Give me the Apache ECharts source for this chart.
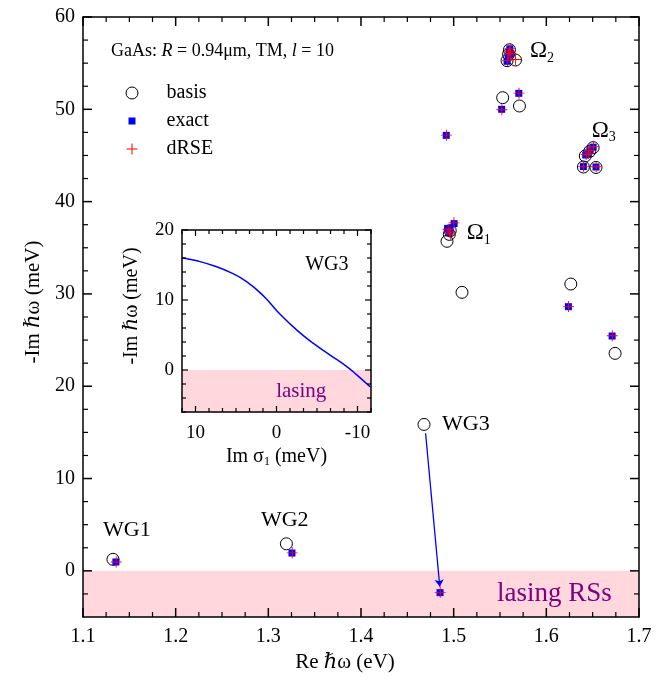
<!DOCTYPE html>
<html><head><meta charset="utf-8">
<script src="https://cdn.jsdelivr.net/npm/echarts@6/dist/echarts.min.js"></script>
<style>html,body{margin:0;padding:0;background:#fff}#c{width:668px;height:686px}</style>
</head><body><div id="c"></div>
<script>
// ---- data ----
const basisX = [1.1323, 1.3195, 1.4680, 1.4928, 1.4953, 1.4963, 1.5090, 1.5529, 1.5710, 1.5576, 1.5667, 1.5592, 1.5602, 1.6264, 1.6742, 1.6400, 1.6536, 1.6420, 1.6468, 1.6505];
const basisY = [1.25, 2.93, 15.86, 35.70, 36.45, 36.85, 30.17, 51.26, 50.36, 55.27, 55.34, 55.95, 56.45, 31.07, 23.56, 43.75, 43.70, 44.95, 45.45, 45.85];
const exactX = [1.1355, 1.3255, 1.4853, 1.4920, 1.4935, 1.4950, 1.4962, 1.5005, 1.5518, 1.5703, 1.5576, 1.5588, 1.5598, 1.5606, 1.5612, 1.6238, 1.6710, 1.6400, 1.6536, 1.6425, 1.6470, 1.6505, 1.6450];
const exactY = [0.96, 1.93, -2.36, 47.18, 37.10, 36.60, 36.90, 37.62, 50.00, 51.73, 55.20, 55.75, 56.15, 56.55, 56.00, 28.62, 25.44, 43.80, 43.75, 45.05, 45.50, 45.90, 45.20];
const drseX = [1.1358, 1.3258, 1.4855, 1.4922, 1.4940, 1.4957, 1.4965, 1.5003, 1.5520, 1.5705, 1.5580, 1.5592, 1.5601, 1.5610, 1.5615, 1.5667, 1.6240, 1.6712, 1.6402, 1.6538, 1.6430, 1.6472, 1.6508, 1.6455];
const drseY = [0.95, 1.95, -2.33, 47.20, 37.00, 36.70, 36.50, 37.70, 49.95, 51.75, 55.30, 55.90, 56.30, 56.60, 56.05, 55.40, 28.65, 25.46, 43.82, 43.78, 45.10, 45.55, 45.95, 45.25];
const arrowFrom = [1.4697, 14.9];
const arrowTo = [1.4850, -1.7];
// inset: WG3 trajectory
const insetSigma = [11.67, 9.82, 7.77, 5.71, 3.65, 1.60, -0.45, -2.51, -4.56, -6.62, -8.68, -9.91, -11.55];
const insetImW = [16.05, 15.6, 14.9, 13.95, 12.6, 10.57, 7.95, 5.7, 3.8, 2.14, 0.48, -0.7, -2.4];
// tick labels and tick marks
const mainXMajor = [1.1, 1.2, 1.3, 1.4, 1.5, 1.6, 1.7];
const mainXMinor = [1.125, 1.15, 1.175, 1.225, 1.25, 1.275, 1.325, 1.35, 1.375, 1.425, 1.45, 1.475, 1.525, 1.55, 1.575, 1.625, 1.65, 1.675];
const mainYMajor = [0, 10, 20, 30, 40, 50, 60];
const mainYMinor = [-2.5, 2.5, 5, 7.5, 12.5, 15, 17.5, 22.5, 25, 27.5, 32.5, 35, 37.5, 42.5, 45, 47.5, 52.5, 55, 57.5];
const insetXMajor = [-10, 0, 10];
const insetXMinor = [-11.667, -8.333, -6.667, -5, -3.333, -1.667, 1.667, 3.333, 5, 6.667, 8.333, 11.667];
const insetYMajor = [0, 10, 20];
const insetYMinor = [-6, -4, -2, 2, 4, 6, 8, 12, 14, 16, 18];
// annotations (data coordinates)
const mainNotes = [
  ['{o|Ω}{s|2}', 1.5824, 56.3],
  ['{o|Ω}{s|3}', 1.6490, 47.67],
  ['{o|Ω}{s|1}', 1.5140, 36.58],
  ['WG1', 1.1216, 4.44],
  ['WG2', 1.2920, 5.52],
  ['WG3', 1.4874, 15.9],
  ['{p|lasing RSs}', 1.5467, -2.5]
];
const insetNotes = [
  ['WG3', -3.54, 15.0],
  ['{p|lasing}', 0.04, -3.1]
];

// ---- chart ----
const FONT = 'Liberation Serif, DejaVu Serif, serif';
const PINK = '#ffd7dc';
const PURPLE = '#800080';
const MAIN = {x0: 1.1, x1: 1.7, y0: -5, y1: 60};
const INSET = {x0: -35 / 3, x1: 35 / 3, y0: -6, y1: 20};
const pts = (xs, ys) => xs.map((x, i) => [x, ys[i]]);
const mkLine = () => ({show: true, onZero: false, lineStyle: {color: '#000', width: 1.5}});
const lbl = (size, margin, extra) => Object.assign({show: true, color: '#000', fontFamily: FONT, fontSize: size, margin: margin}, extra || {});

// tick marks drawn through the axes' own scales (api.coord), on all four sides, pointing inward
function tickData(r, xMaj, xMin, yMaj, yMin, longLen, shortLen) {
  const d = [];
  xMaj.forEach(v => d.push([v, r.y0, longLen, 0]));
  xMin.forEach(v => d.push([v, r.y0, shortLen, 0]));
  yMaj.forEach(v => d.push([r.x0, v, longLen, 1]));
  yMin.forEach(v => d.push([r.x0, v, shortLen, 1]));
  return d;
}
function tickRenderer(r) {
  return function (params, api) {
    const len = api.value(2), kind = api.value(3);
    const style = {stroke: '#000', lineWidth: len > 6 ? 1.5 : 1.2};
    if (kind === 0) {
      const v = api.value(0);
      const a = api.coord([v, r.y0]), b = api.coord([v, r.y1]);
      return {type: 'group', children: [
        {type: 'line', shape: {x1: a[0], y1: a[1], x2: a[0], y2: a[1] - len}, style: style},
        {type: 'line', shape: {x1: b[0], y1: b[1], x2: b[0], y2: b[1] + len}, style: style}
      ]};
    }
    const v = api.value(1);
    const a = api.coord([r.x0, v]), b = api.coord([r.x1, v]);
    const dir = a[0] < b[0] ? 1 : -1;
    return {type: 'group', children: [
      {type: 'line', shape: {x1: a[0], y1: a[1], x2: a[0] + dir * len, y2: a[1]}, style: style},
      {type: 'line', shape: {x1: b[0], y1: b[1], x2: b[0] - dir * len, y2: b[1]}, style: style}
    ]};
  };
}

const richMain = () => ({
  n: {fontFamily: FONT, fontSize: 21, color: '#000'},
  i: {fontFamily: FONT, fontSize: 21, fontStyle: 'italic', color: '#000'}
});

const option = {
  backgroundColor: '#fff',
  animation: false,
  title: {
    text: '{n|GaAs: }{i|R}{n| = 0.94μm, TM, }{i|l}{n| = 10}',
    left: 106, top: 37,
    textStyle: {fontWeight: 'normal', rich: {
      n: {fontFamily: FONT, fontSize: 18, fontWeight: 'normal', color: '#000'},
      i: {fontFamily: FONT, fontSize: 18, fontWeight: 'normal', fontStyle: 'italic', color: '#000'}
    }}
  },
  legend: {
    orient: 'vertical', left: 120, top: 78, itemWidth: 36, itemHeight: 13, itemGap: 8,
    textStyle: {fontFamily: FONT, fontSize: 20, color: '#000'},
    data: [
      {name: 'basis', icon: 'path://M0,0M36,13M12.5,6.5A6,6,0,1,1,0.5,6.5A6,6,0,1,1,12.5,6.5Z',
        itemStyle: {color: 'rgba(0,0,0,0)', borderColor: '#000', borderWidth: 1, opacity: 1}},
      {name: 'exact', icon: 'path://M0,0M36,13M3,3H10V10H3Z', itemStyle: {color: '#0000ff', borderWidth: 0, opacity: 1}},
      {name: 'dRSE', icon: 'path://M0,0M36,13M6,1H7V12H6ZM1,6H12V7H1Z', itemStyle: {color: '#ff0000', borderWidth: 0, opacity: 1}}
    ]
  },
  grid: [
    {left: 83, right: 29, top: 17, bottom: 69, outerBoundsMode: 'none'},
    {left: 182, top: 230, width: 189, height: 182, outerBoundsMode: 'none'}
  ],
  xAxis: [
    {type: 'value', gridIndex: 0, z: 5, min: MAIN.x0, max: MAIN.x1, interval: 0.1, position: 'bottom',
      axisLine: mkLine(), splitLine: {show: false}, axisTick: {show: false},
      axisLabel: lbl(20, 10, {formatter: v => v.toFixed(1)}),
      name: '{n|Re }{i|ℏ}{n|ω (eV)}', nameLocation: 'middle', nameGap: 35,
      nameTextStyle: {rich: richMain(), padding: [0, 32, 0, 0]}},
    {type: 'value', gridIndex: 0, z: 5, min: MAIN.x0, max: MAIN.x1, interval: 0.1, position: 'top',
      axisLine: mkLine(), splitLine: {show: false}, axisTick: {show: false}, axisLabel: {show: false}},
    {type: 'value', gridIndex: 1, z: 5, min: INSET.x0, max: INSET.x1, interval: 5 / 3, inverse: true, position: 'bottom',
      axisLine: mkLine(), splitLine: {show: false}, axisTick: {show: false},
      axisLabel: lbl(19, 12, {customValues: insetXMajor.slice(), formatter: v => String(Math.round(v))}),
      name: '{n|Im σ}{s|1}{n| (meV)}', nameLocation: 'middle', nameGap: 34,
      nameTextStyle: {rich: {n: {fontFamily: FONT, fontSize: 20, color: '#000'},
        s: {fontFamily: FONT, fontSize: 12, color: '#000', padding: [10, 0, 0, 0]}}}},
    {type: 'value', gridIndex: 1, z: 5, min: INSET.x0, max: INSET.x1, interval: 5 / 3, inverse: true, position: 'top',
      axisLine: mkLine(), splitLine: {show: false}, axisTick: {show: false}, axisLabel: {show: false}}
  ],
  yAxis: [
    {type: 'value', gridIndex: 0, z: 5, min: MAIN.y0, max: MAIN.y1, position: 'left',
      axisLine: mkLine(), splitLine: {show: false}, axisTick: {show: false},
      axisLabel: lbl(20, 8, {customValues: mainYMajor.slice()}),
      name: '{n|-Im }{i|ℏ}{n|ω (meV)}', nameLocation: 'middle', nameGap: 38,
      nameTextStyle: {rich: richMain(), padding: [0, 0, 0, 30]}},
    {type: 'value', gridIndex: 0, z: 5, min: MAIN.y0, max: MAIN.y1, position: 'right',
      axisLine: mkLine(), splitLine: {show: false}, axisTick: {show: false}, axisLabel: {show: false}},
    {type: 'value', gridIndex: 1, z: 5, min: INSET.y0, max: INSET.y1, interval: 2, position: 'left',
      axisLine: mkLine(), splitLine: {show: false}, axisTick: {show: false},
      axisLabel: lbl(19, 8, {customValues: insetYMajor.slice()}),
      name: '{n|-Im }{i|ℏ}{n|ω (meV)}', nameLocation: 'middle', nameGap: 40,
      nameTextStyle: {padding: [0, 0, 0, 30], rich: {n: {fontFamily: FONT, fontSize: 20, color: '#000'},
        i: {fontFamily: FONT, fontSize: 20, fontStyle: 'italic', color: '#000'}}}},
    {type: 'value', gridIndex: 1, z: 5, min: INSET.y0, max: INSET.y1, interval: 2, position: 'right',
      axisLine: mkLine(), splitLine: {show: false}, axisTick: {show: false}, axisLabel: {show: false}}
  ],
  series: [
    {
      name: 'basis', type: 'scatter', xAxisIndex: 0, yAxisIndex: 0, symbol: 'circle', symbolSize: 12,
      itemStyle: {color: 'rgba(0,0,0,0)', borderColor: '#000', borderWidth: 1, opacity: 1}, z: 2,
      data: pts(basisX, basisY),
      markArea: {silent: true, itemStyle: {color: PINK, opacity: 1}, data: [[{yAxis: 0}, {yAxis: -5}]]}
    },
    {
      name: 'exact', type: 'scatter', xAxisIndex: 0, yAxisIndex: 0, symbol: 'rect', symbolSize: 7,
      itemStyle: {color: '#0000ff', opacity: 1}, z: 3, data: pts(exactX, exactY)
    },
    {
      name: 'dRSE', type: 'scatter', xAxisIndex: 0, yAxisIndex: 0,
      symbol: 'path://M5.5,0H6.5V12H5.5ZM0,5.5H12V6.5H0Z', symbolSize: 11,
      itemStyle: {color: '#ff0000', opacity: 1}, z: 4, data: pts(drseX, drseY)
    },
    {
      name: 'arrow', type: 'lines', coordinateSystem: 'cartesian2d', xAxisIndex: 0, yAxisIndex: 0,
      symbol: ['none', 'arrow'], symbolSize: 7, z: 4,
      lineStyle: {color: '#0000ff', width: 1.3, opacity: 1},
      data: [{coords: [arrowFrom, arrowTo]}]
    },
    {
      name: 'notes', type: 'scatter', xAxisIndex: 0, yAxisIndex: 0, symbolSize: 0, z: 6, silent: true,
      itemStyle: {opacity: 1},
      label: {show: true, position: 'right', distance: 0, color: '#000', opacity: 1, fontFamily: FONT, fontSize: 22,
        formatter: p => p.data.t,
        rich: {
          o: {fontFamily: FONT, fontSize: 23, color: '#000'},
          s: {fontFamily: FONT, fontSize: 14, color: '#000', padding: [14, 0, 0, 0]},
          p: {fontFamily: FONT, fontSize: 27, color: PURPLE}
        }},
      data: mainNotes.map(n => ({value: [n[1], n[2]], t: n[0]}))
    },
    {
      name: 'mainTicks', type: 'custom', xAxisIndex: 0, yAxisIndex: 0, z: 7, silent: true, clip: false,
      renderItem: tickRenderer(MAIN),
      data: tickData(MAIN, mainXMajor, mainXMinor, mainYMajor, mainYMinor, 9, 5)
    },
    {
      name: 'WG3 trajectory', type: 'line', xAxisIndex: 2, yAxisIndex: 2, smooth: true, showSymbol: false, z: 4,
      lineStyle: {color: '#0000ff', width: 1.5}, itemStyle: {color: '#0000ff'},
      data: pts(insetSigma, insetImW),
      markArea: {silent: true, itemStyle: {color: PINK, opacity: 1}, data: [[{yAxis: 0}, {yAxis: -6}]]}
    },
    {
      name: 'insetNotes', type: 'scatter', xAxisIndex: 2, yAxisIndex: 2, symbolSize: 0, z: 6, silent: true,
      itemStyle: {opacity: 1},
      label: {show: true, position: 'right', distance: 0, color: '#000', opacity: 1, fontFamily: FONT, fontSize: 20,
        formatter: p => p.data.t,
        rich: {p: {fontFamily: FONT, fontSize: 21, color: PURPLE}}},
      data: insetNotes.map(n => ({value: [n[1], n[2]], t: n[0]}))
    },
    {
      name: 'insetTicks', type: 'custom', xAxisIndex: 2, yAxisIndex: 2, z: 7, silent: true, clip: false,
      renderItem: tickRenderer(INSET),
      data: tickData(INSET, insetXMajor, insetXMinor, insetYMajor, insetYMinor, 6, 4)
    }
  ]
};
const chart = echarts.init(document.getElementById('c'));
chart.setOption(option);
</script></body></html>
